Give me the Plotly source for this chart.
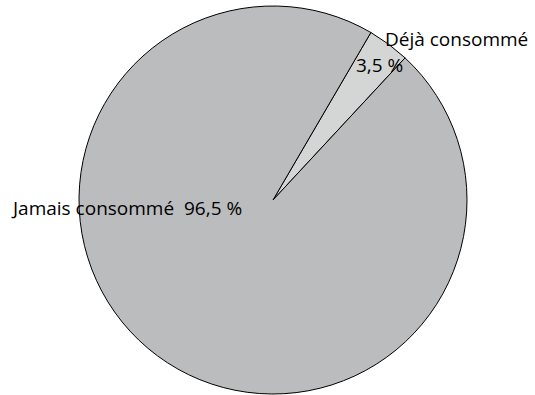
import plotly.graph_objects as go

# Consumption shares (percent)
labels = ["Déjà consommé", "Jamais consommé"]
values = [3.5, 96.5]
colors = ["#d4d5d5", "#bbbcbe"]

W, H = 535, 395
cx, cy, r = 273, 200, 194  # pie centre and radius in pixels

fig = go.Figure(
    go.Pie(
        labels=labels,
        values=values,
        sort=False,
        direction="clockwise",
        rotation=30.3,
        marker=dict(colors=colors, line=dict(color="#000000", width=1)),
        textinfo="none",
        hoverinfo="label+percent",
        showlegend=False,
        domain=dict(
            x=[(cx - r) / W, (cx + r) / W],
            y=[(H - cy - r) / H, (H - cy + r) / H],
        ),
    )
)

def fmt(v):
    return f"{v:.1f}".replace(".", ",") + "\u00a0%"

font = dict(family="Open Sans, Noto Sans, sans-serif", size=19, color="#000000")

annotations = [
    dict(text=labels[0], x=384 / W, y=1 - 39 / H, xanchor="left", yanchor="middle"),
    dict(text=fmt(values[0]), x=355 / W, y=1 - 65 / H, xanchor="left", yanchor="middle"),
    dict(text=f"{labels[1]}\u00a0\u00a0{fmt(values[1])}", x=10 / W, y=1 - 208 / H,
         xanchor="left", yanchor="middle"),
]
for a in annotations:
    a.update(xref="paper", yref="paper", showarrow=False, font=font,
             borderpad=0)

fig.update_layout(
    width=W,
    height=H,
    margin=dict(l=0, r=0, t=0, b=0),
    paper_bgcolor="#ffffff",
    plot_bgcolor="#ffffff",
    annotations=annotations,
)

fig.write_html("out.html")
